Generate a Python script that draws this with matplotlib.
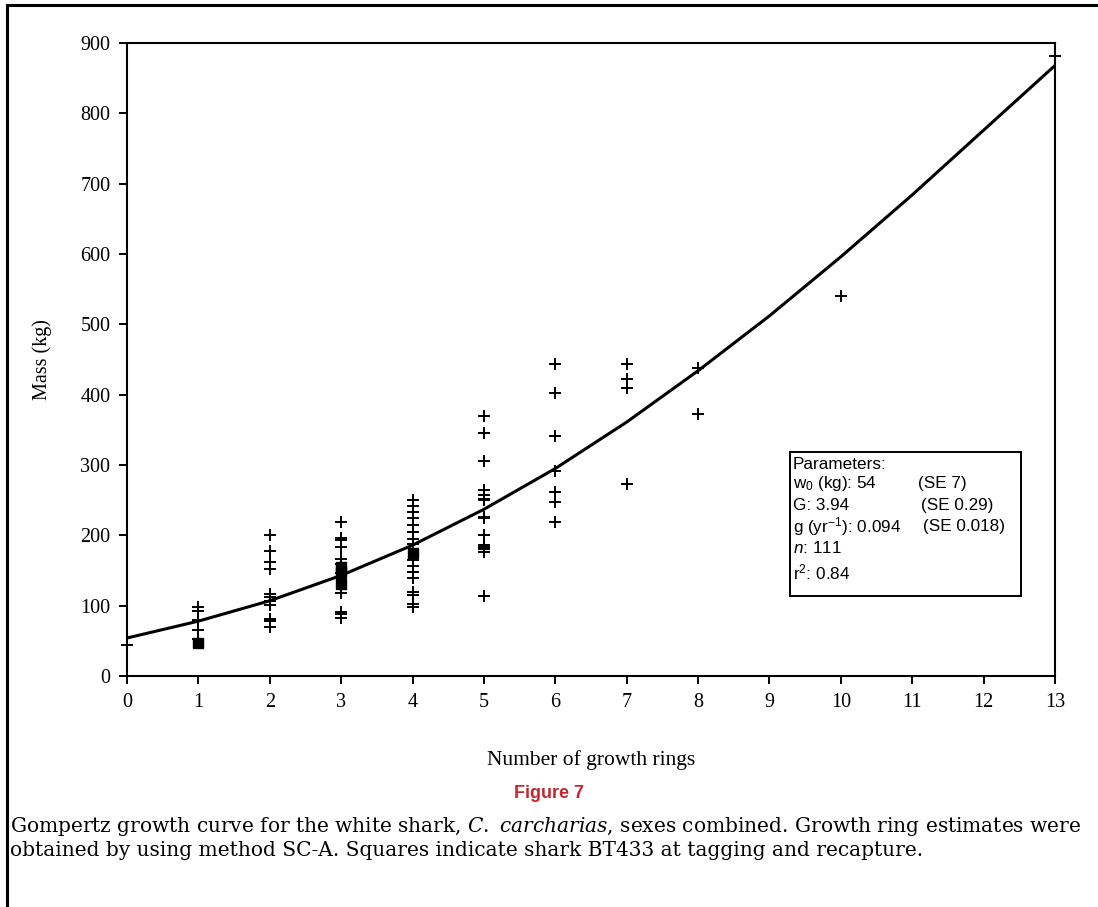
import matplotlib
matplotlib.use("Agg")
import matplotlib.pyplot as plt
from matplotlib.lines import Line2D
from matplotlib.patches import Rectangle

plt.rcParams["mathtext.fontset"] = "custom"
plt.rcParams["mathtext.rm"] = "Liberation Sans"
plt.rcParams["mathtext.it"] = "Liberation Sans:italic"

# growth ring counts and masses (kg)
plus_x = ([0] + [1] * 5 + [2] * 11 + [3] * 12 + [4] * 16 + [5] * 15
          + [6] * 7 + [7] * 4 + [8] * 2 + [10] + [13])
plus_y = ([44]
          + [98, 93, 80, 65, 53]
          + [200, 178, 162, 152, 117, 112, 107, 101, 81, 78, 69]
          + [219, 196, 193, 183, 167, 159, 146, 118, 91, 88, 83, 140]
          + [250, 242, 233, 224, 215, 205, 195, 187, 165, 157, 148, 140, 120, 115, 102, 98]
          + [369, 345, 305, 265, 257, 252, 250, 226, 225, 200, 186, 184, 181, 176, 114]
          + [443, 402, 341, 292, 262, 247, 219]
          + [443, 422, 410, 273]
          + [438, 372]
          + [540]
          + [882])

# shark BT433 (squares)
sq_x = [1, 3, 3, 3, 4]
sq_y = [47, 155, 148, 131, 175]

# fitted curve, read at each ring count
curve_x = list(range(14))
curve_y = [54, 78, 107, 143, 186, 237, 295, 361, 434, 512, 596, 684, 776, 868]

param_lines = ["Parameters:", "w$_0$ (kg): 54", "G: 3.94", "g (yr$^{-1}$): 0.094", "$n$: 111", "r$^2$: 0.84"]
se_lines = ["(SE 7)", "(SE 0.29)", "(SE 0.018)"]

fig = plt.figure(figsize=(10.98, 9.07), dpi=100)
ax = fig.add_axes([0.1157, 0.2547, 0.8451, 0.6979])

ax.plot(curve_x, curve_y, color="black", lw=2.2, zorder=2)
ax.plot(plus_x, plus_y, ls="none", marker="+", ms=9, mew=1.4, color="black", zorder=3, clip_on=False)
ax.plot(sq_x, sq_y, ls="none", marker="s", ms=7.5, color="black", zorder=4)

ax.set_xlim(0, 13)
ax.set_ylim(0, 900)
ax.set_xticks(range(14))
ax.set_yticks(range(0, 901, 100))
for s in ax.spines.values():
    s.set_linewidth(1.5)
ax.tick_params(direction="out", length=6, width=1.4, labelsize=14.5, pad=6)
for lab in ax.get_xticklabels() + ax.get_yticklabels():
    lab.set_family("Liberation Serif")

ax.set_ylabel("Mass (kg)", family="Liberation Serif", fontsize=14.5, labelpad=20)
ax.set_xlabel("Number of growth rings", family="Liberation Serif", fontsize=15.5, labelpad=28)

# parameter box
ax.add_patch(Rectangle((9.286, 113.7), 3.234, 204.8, fc="white", ec="black", lw=1.4, zorder=5))
line_y = [300, 273, 242, 212.5, 182, 147]
for txt, yy in zip(param_lines, line_y):
    ax.text(9.33, yy, txt, family="Liberation Sans", fontsize=12.3, va="center", ha="left", zorder=6)
for txt, yy, xx in zip(se_lines, line_y[1:4], [11.08, 11.12, 11.15]):
    ax.text(xx, yy, txt, family="Liberation Sans", fontsize=12.3, va="center", ha="left", zorder=6)

fig.text(0.5, 1 - 793 / 907, "Figure 7", family="Liberation Sans", fontweight="bold",
         fontsize=13, color="#c4262e", ha="center", va="center")
fig.text(0.009, 1 - 826 / 907,
         "Gompertz growth curve for the white shark, $\\mathit{C.}$ $\\mathit{carcharias}$, sexes combined. Growth ring estimates were",
         family="DejaVu Serif", math_fontfamily="dejavuserif", fontsize=14.5, ha="left", va="center")
fig.text(0.009, 1 - 850 / 907,
         "obtained by using method SC-A. Squares indicate shark BT433 at tagging and recapture.",
         family="DejaVu Serif", fontsize=14.5, ha="left", va="center")

# page frame
fig.add_artist(Line2D([0.0065, 0.0065], [0.0, 0.9945], color="black", lw=2.2, transform=fig.transFigure))
fig.add_artist(Line2D([0.0065, 1.0], [0.9945, 0.9945], color="black", lw=2.2, transform=fig.transFigure))

fig.savefig("out.png", dpi=100)
